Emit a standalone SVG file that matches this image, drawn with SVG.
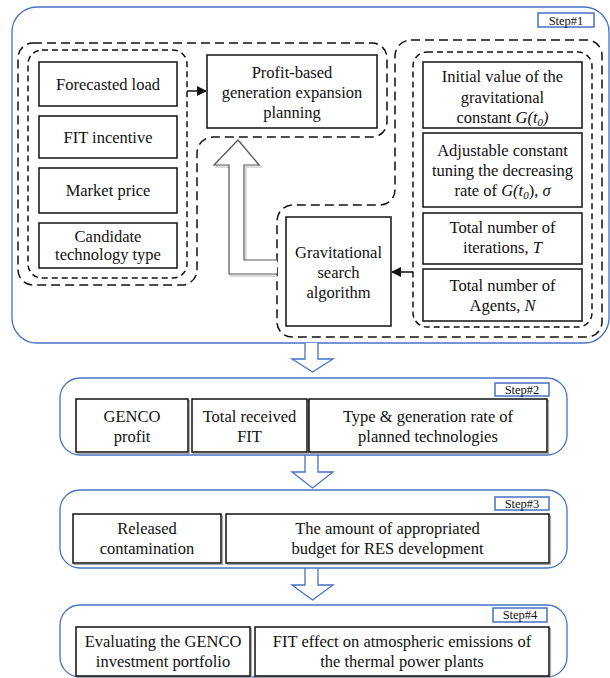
<svg xmlns="http://www.w3.org/2000/svg" width="610" height="678" viewBox="0 0 610 678">
<style>
text{font-family:"Liberation Serif","Times New Roman",serif;font-size:16.5px;fill:#111;text-anchor:middle}
.it{font-style:italic}
.lbl{font-size:12.5px}
.box{fill:#fff;stroke:#111;stroke-width:1.5}
.shd{fill:none;stroke:#aaa;stroke-width:1.2}
.step{fill:#fff;stroke:#4472c4;stroke-width:1.3}
.slbl{fill:#fff;stroke:#4472c4;stroke-width:1.5}
.dOut{fill:none;stroke:#111;stroke-width:1.5;stroke-dasharray:9 5}
.dIn{fill:none;stroke:#111;stroke-width:1.5;stroke-dasharray:6 4}
.barrow{fill:#fff;stroke:#4472c4;stroke-width:1.3}
.conn{stroke:#111;stroke-width:1.5;fill:none}
</style>
<defs>
<marker id="ah" viewBox="0 0 10 10" refX="9" refY="5" markerWidth="10" markerHeight="10" markerUnits="userSpaceOnUse" orient="auto">
<path d="M0,0 L10,5 L0,10 Z" fill="#111"/>
</marker>
</defs>

<g id="step1">
<rect class="step" x="12" y="7" width="597" height="336" rx="25"/>
<rect class="slbl" x="538" y="13" width="56" height="14"/>
<text class="lbl" x="566" y="24.5">Step#1</text>
</g>

<g id="groups">
<path class="dOut" d="M33,43 H372 A15 15 0 0 1 387,58 V122 A15 15 0 0 1 372,137 H213 A16 16 0 0 0 197,153 V270 A15 15 0 0 1 182,285 H33 A15 15 0 0 1 18,270 V58 A15 15 0 0 1 33,43 Z"/>
<rect class="dIn" x="28" y="50" width="159" height="228" rx="14"/>
<path class="dOut" d="M411,40 H587 A15 15 0 0 1 602,55 V322 A15 15 0 0 1 587,337 H292 A15 15 0 0 1 277,322 V221 A16 16 0 0 1 293,205 H380 A15 15 0 0 0 395,190 V56 A16 16 0 0 1 411,40 Z"/>
<rect class="dIn" x="413" y="52" width="179" height="275" rx="14"/>
</g>

<g id="forecasted-load">
<rect class="box" x="39" y="62" width="138" height="44"/>
<text x="108" y="89.5">Forecasted load</text>
</g>
<g id="fit-incentive">
<rect class="box" x="39" y="116" width="138" height="42"/>
<text x="108" y="142.5">FIT incentive</text>
</g>
<g id="market-price">
<rect class="box" x="39" y="168" width="138" height="45"/>
<text x="108" y="196">Market price</text>
</g>
<g id="candidate-technology">
<rect class="box" x="39" y="223" width="138" height="45"/>
<text x="108" y="241.5">Candidate</text>
<text x="108" y="259.5">technology type</text>
</g>

<g id="profit-gep">
<rect class="box" x="207" y="55" width="170" height="73"/>
<text x="292" y="77.5">Profit-based</text>
<text x="292" y="97.5">generation expansion</text>
<text x="292" y="117.5">planning</text>
</g>

<g id="initial-value">
<rect class="box" x="423" y="62" width="159" height="66"/>
<text x="502.5" y="81.5">Initial value of the</text>
<text x="502.5" y="102.5">gravitational</text>
<text x="502.5" y="122.5">constant <tspan class="it">G(t</tspan><tspan class="it" font-size="11" dy="3">0</tspan><tspan class="it" dy="-3">)</tspan></text>
</g>
<g id="adjustable-constant">
<rect class="box" x="423" y="133" width="159" height="74"/>
<text x="502.5" y="155.5">Adjustable constant</text>
<text x="502.5" y="175.5">tuning the decreasing</text>
<text x="502.5" y="195.5">rate of <tspan class="it">G(t</tspan><tspan class="it" font-size="11" dy="3">0</tspan><tspan dy="-3">), </tspan><tspan class="it">σ</tspan></text>
</g>
<g id="iterations">
<rect class="box" x="423" y="213" width="159" height="51"/>
<text x="502.5" y="232.5">Total number of</text>
<text x="502.5" y="252.5">iterations, <tspan class="it">T</tspan></text>
</g>
<g id="agents">
<rect class="box" x="423" y="269" width="159" height="52"/>
<text x="502.5" y="290.5">Total number of</text>
<text x="502.5" y="310.5">Agents, <tspan class="it">N</tspan></text>
</g>

<g id="gsa">
<rect class="box" x="286" y="217" width="105" height="109"/>
<text x="338.5" y="257.5">Gravitational</text>
<text x="338.5" y="277.5">search</text>
<text x="338.5" y="297.5">algorithm</text>
</g>

<g id="connectors">
<line class="conn" x1="187" y1="91" x2="206" y2="91" marker-end="url(#ah)"/>
<line class="conn" x1="413" y1="272" x2="392" y2="272" marker-end="url(#ah)"/>
<path d="M277,262 H246 V167 H261 L240,142 L216,167 H231 V276 H277" fill="none" stroke="#d0d0d0" stroke-width="1.5"/>
<path d="M277,260 H244 V165 H259 L238,140 L214,165 H229 V274 H277" fill="#fff" stroke="#555" stroke-width="1.2"/>
<path class="barrow" d="M305,343 V359 H292 L312.5,372 L333,359 H318 V343"/>
<path class="barrow" d="M305,455 V472 H292 L312.5,488 L333,472 H318 V455"/>
<path class="barrow" d="M305,568 V585 H292 L312.5,600 L333,585 H318 V568"/>
</g>

<g id="step2">
<rect class="step" x="60" y="378" width="507" height="77" rx="20"/>
<rect class="slbl" x="495" y="383" width="54" height="13"/>
<text class="lbl" x="522" y="393.5">Step#2</text>
</g>
<g id="genco-profit">
<rect class="shd" x="77.5" y="400.5" width="112" height="53"/>
<rect class="box" x="76" y="399" width="112" height="53"/>
<text x="132" y="421.5">GENCO</text>
<text x="132" y="441.5">profit</text>
</g>
<g id="total-fit">
<rect class="shd" x="193.5" y="400.5" width="115" height="53"/>
<rect class="box" x="192" y="399" width="115" height="53"/>
<text x="249.5" y="421.5">Total received</text>
<text x="249.5" y="441.5">FIT</text>
</g>
<g id="type-rate">
<rect class="shd" x="310.5" y="400.5" width="238" height="53"/>
<rect class="box" x="309" y="399" width="238" height="53"/>
<text x="428" y="421.5">Type &amp; generation rate of</text>
<text x="428" y="441.5">planned technologies</text>
</g>

<g id="step3">
<rect class="step" x="60" y="490" width="507" height="78" rx="20"/>
<rect class="slbl" x="495" y="497" width="54" height="13"/>
<text class="lbl" x="522" y="507.5">Step#3</text>
</g>
<g id="released">
<rect class="shd" x="74.5" y="515.5" width="148" height="49"/>
<rect class="box" x="73" y="514" width="148" height="49"/>
<text x="147" y="533.5">Released</text>
<text x="147" y="553.5">contamination</text>
</g>
<g id="budget">
<rect class="shd" x="227.5" y="515.5" width="323" height="49"/>
<rect class="box" x="226" y="514" width="323" height="49"/>
<text x="387.5" y="533.5">The amount of appropriated</text>
<text x="387.5" y="553.5">budget for RES development</text>
</g>

<g id="step4">
<rect class="step" x="60" y="605" width="507" height="72" rx="20"/>
<rect class="slbl" x="493" y="608" width="54" height="14"/>
<text class="lbl" x="520" y="619">Step#4</text>
</g>
<g id="evaluating">
<rect class="shd" x="77.5" y="628.5" width="174" height="49"/>
<rect class="box" x="76" y="627" width="174" height="49"/>
<text x="163" y="646.5">Evaluating the GENCO</text>
<text x="163" y="666.5">investment portfolio</text>
</g>
<g id="fit-effect">
<rect class="shd" x="256.5" y="628.5" width="294" height="49"/>
<rect class="box" x="255" y="627" width="294" height="49"/>
<text x="402" y="646.5">FIT effect on atmospheric emissions of</text>
<text x="402" y="666.5">the thermal power plants</text>
</g>
</svg>
